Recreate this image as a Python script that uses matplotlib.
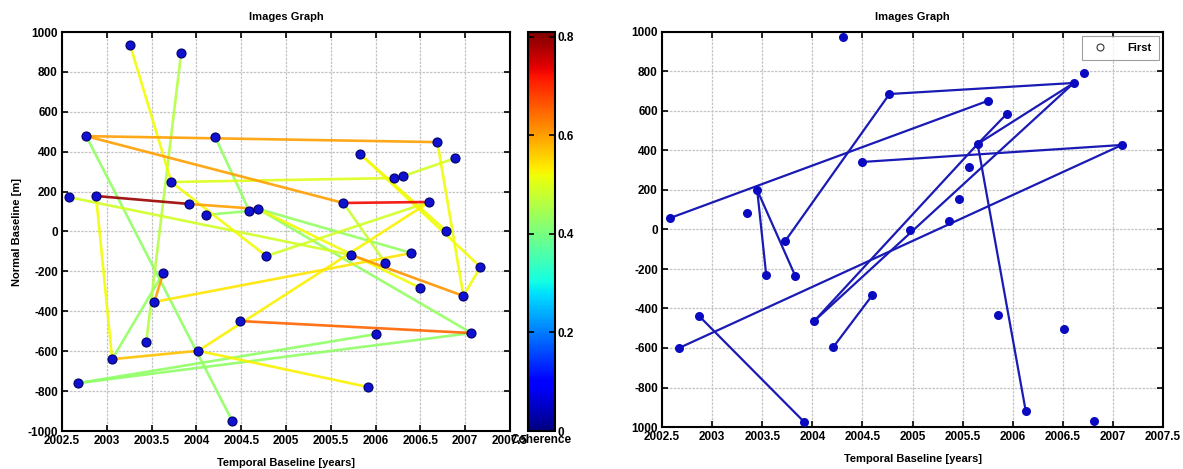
import matplotlib
matplotlib.use("Agg")
import matplotlib.pyplot as plt
import numpy as np
from matplotlib.collections import LineCollection
from matplotlib import cm, colors

plt.rcParams['font.family'] = ['Liberation Sans', 'DejaVu Sans']
plt.rcParams['font.weight'] = 'bold'

# ---------------- data: left panel (coherence graph) ----------------
left_x = [2003.26, 2003.83, 2002.77, 2004.21, 2002.58, 2002.88, 2003.72, 2003.92,
          2004.11, 2004.59, 2004.69, 2006.69, 2005.83, 2006.89, 2006.21, 2006.31,
          2005.64, 2006.60, 2006.79, 2006.40, 2005.73, 2006.11, 2007.17, 2006.50,
          2006.98, 2007.07, 2006.01, 2005.92, 2004.78, 2003.63, 2003.53, 2003.44,
          2003.06, 2004.02, 2004.49, 2002.68, 2004.40]
left_y = [935, 895, 478, 474, 172, 178, 248, 138, 83, 103, 113, 448, 388, 368,
          268, 278, 143, 148, 2, -108, -118, -158, -178, -283, -323, -509, -514,
          -780, -123, -208, -353, -555, -640, -598, -449, -760, -950]
# pairs (1-based image numbers) and their coherence
edge_from = [1, 2, 3, 3, 3, 4, 5, 6, 6, 7, 7, 8, 9, 11, 11, 11, 12, 13, 13, 16,
             17, 17, 21, 23, 29, 30, 31, 33, 33, 34, 34, 35, 36, 36]
edge_to = [7, 32, 12, 17, 37, 10, 21, 8, 33, 15, 29, 11, 10, 20, 24, 26, 25, 19,
           23, 14, 18, 22, 25, 25, 18, 31, 20, 30, 34, 18, 28, 26, 26, 27]
coherence = [0.52, 0.46, 0.60, 0.60, 0.425, 0.43, 0.49, 0.79, 0.52, 0.50, 0.52,
             0.60, 0.43, 0.43, 0.52, 0.43, 0.52, 0.52, 0.52, 0.49, 0.73, 0.48,
             0.61, 0.52, 0.49, 0.60, 0.54, 0.43, 0.57, 0.53, 0.53, 0.65, 0.425, 0.425]

# ---------------- data: right panel (images graph) ----------------
right_x = [2004.31, 2004.77, 2002.58, 2003.35, 2003.45, 2004.50, 2005.75, 2005.94,
           2006.61, 2006.71, 2005.65, 2007.09, 2005.56, 2005.46, 2005.36, 2004.98,
           2003.73, 2003.54, 2003.83, 2004.02, 2004.60, 2004.21, 2002.67, 2002.87,
           2003.92, 2005.85, 2006.51, 2006.13, 2006.81]
right_y = [975, 686, 58, 84, 200, 342, 651, 585, 742, 792, 433, 428, 317, 154, 43,
           -2, -58, -230, -235, -463, -332, -595, -600, -438, -975, -433, -504,
           -919, -969]
r_from = [2, 4, 4, 16, 1, 5, 10, 10, 10, 19, 19, 22, 23, 21]
r_to = [6, 17, 18, 1, 8, 11, 8, 7, 27, 10, 8, 11, 24, 20]

xticks = [2002.5, 2003, 2003.5, 2004, 2004.5, 2005, 2005.5, 2006, 2006.5, 2007, 2007.5]
xticklabels = ['2002.5', '2003', '2003.5', '2004', '2004.5', '2005', '2005.5',
               '2006', '2006.5', '2007', '2007.5']
yticks = [-1000, -800, -600, -400, -200, 0, 200, 400, 600, 800, 1000]
left_yticklabels = ['-1000', '-800', '-600', '-400', '-200', '0', '200', '400',
                    '600', '800', '1000']
right_yticklabels = ['1000', '-800', '-600', '-400', '-200', '0', '200', '400',
                     '600', '800', '1000']
cbar_ticks = [0, 0.2, 0.4, 0.6, 0.8]
cbar_max = 0.81

W, H = 1183, 469
fig = plt.figure(figsize=(W / 100, H / 100), dpi=100)

def fpos(x0, y0, x1, y1):
    return [x0 / W, 1 - y1 / H, (x1 - x0) / W, (y1 - y0) / H]

ax1 = fig.add_axes(fpos(62, 32, 510, 431))
cax = fig.add_axes(fpos(528, 32, 555, 431))
ax2 = fig.add_axes(fpos(662, 32, 1163, 427))

TICK_FS = 8.5
LAB_FS = 8

def style(ax, ylabels):
    ax.set_xlim(2002.5, 2007.5)
    ax.set_ylim(-1000, 1000)
    ax.set_xticks(xticks)
    ax.set_xticklabels(xticklabels, fontsize=TICK_FS, fontweight='bold')
    ax.set_yticks(yticks)
    ax.set_yticklabels(ylabels, fontsize=TICK_FS, fontweight='bold')
    ax.tick_params(direction='in', top=True, right=True, length=4, width=1.2,
                   pad=3)
    ax.grid(True, color='#c4c4c4', linestyle=(0, (2, 1)), linewidth=0.9)
    ax.set_axisbelow(True)
    for s in ax.spines.values():
        s.set_linewidth(1.5)
    ax.set_title('Images Graph', fontsize=LAB_FS, fontweight='bold', pad=9)

# ---------- left ----------
cmap = plt.get_cmap('jet')
norm = colors.Normalize(vmin=0, vmax=cbar_max)
segs = [[(left_x[a - 1], left_y[a - 1]), (left_x[b - 1], left_y[b - 1])]
        for a, b in zip(edge_from, edge_to)]
order = np.argsort(coherence)
lc = LineCollection([segs[i] for i in order], cmap=cmap, norm=norm,
                    linewidths=1.9, zorder=2, alpha=0.9)
lc.set_array(np.array([coherence[i] for i in order]))
ax1.add_collection(lc)
ax1.plot(left_x, left_y, 'o', color='#1010d0', markeredgecolor='#00006a',
         markeredgewidth=0.8, markersize=6.5, zorder=3)
style(ax1, left_yticklabels)
ax1.set_xlabel('Temporal Baseline [years]', fontsize=LAB_FS, fontweight='bold',
               labelpad=8)
ax1.set_ylabel('Normal Baseline [m]', fontsize=LAB_FS, fontweight='bold',
               labelpad=4)

sm = cm.ScalarMappable(norm=norm, cmap=cmap)
cb = fig.colorbar(sm, cax=cax)
cb.set_ticks(cbar_ticks)
cb.set_ticklabels(['0', '0.2', '0.4', '0.6', '0.8'])
cax.tick_params(direction='in', left=True, right=True, length=4, width=1.2,
                labelsize=TICK_FS, pad=2)
for t in cax.get_yticklabels():
    t.set_fontweight('bold')
cb.outline.set_linewidth(1.5)
fig.text(541 / W, 1 - 440 / H, 'Coherence', fontsize=8.5, fontweight='bold',
         ha='center', va='center')

# ---------- right ----------
for a, b in zip(r_from, r_to):
    ax2.plot([right_x[a], right_x[b]], [right_y[a], right_y[b]], '-',
             color='#1a1ab4', linewidth=1.6, zorder=2)
ax2.plot(right_x, right_y, 'o', color='#0a0ac0', markersize=6.5,
         markeredgewidth=0, zorder=3)
ax2.plot([], [], 'o', markerfacecolor='white', markeredgecolor='#333333',
         markersize=5, markeredgewidth=0.8, linestyle='none', label='First')
style(ax2, right_yticklabels)
ax2.set_xlabel('Temporal Baseline [years]', fontsize=LAB_FS, fontweight='bold',
               labelpad=8)
leg = ax2.legend(loc='upper right', frameon=True, fancybox=False,
                 borderpad=0.6, handletextpad=1.5, borderaxespad=0.4,
                 prop={'weight': 'bold', 'size': 8})
leg.get_frame().set_edgecolor('#888888')
leg.get_frame().set_linewidth(0.8)

fig.savefig('out.png', dpi=100)
